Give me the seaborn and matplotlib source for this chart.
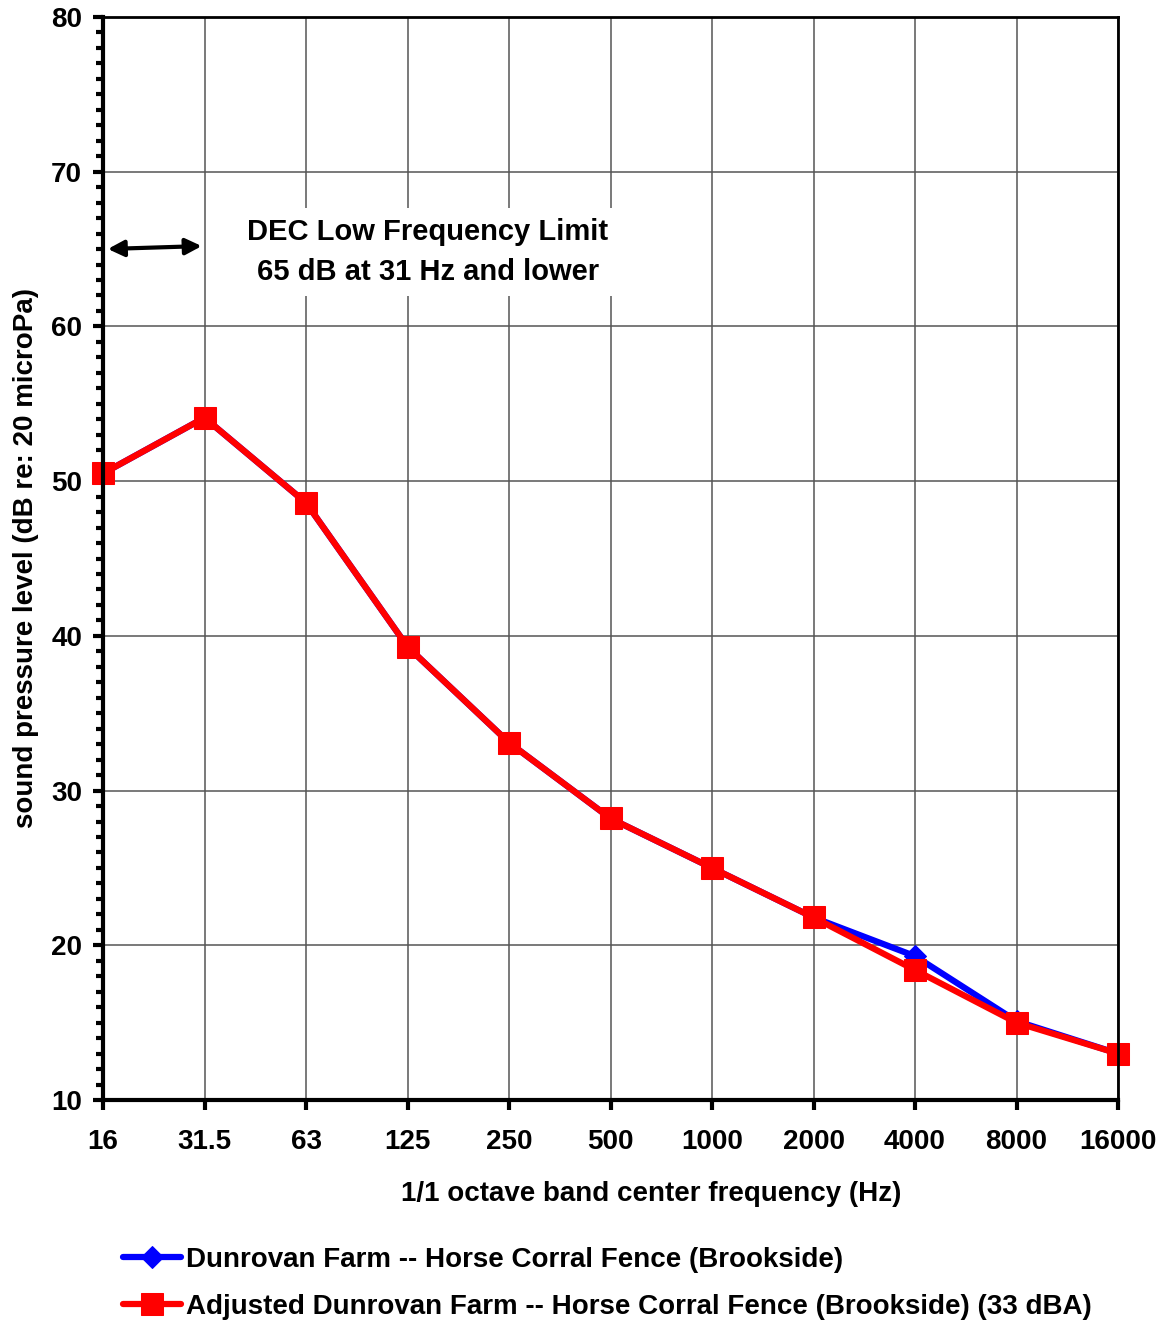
import numpy as np
import pandas as pd
import matplotlib
matplotlib.use('Agg')
import matplotlib.pyplot as plt
import seaborn as sns

freq_labels = ['16', '31.5', '63', '125', '250', '500', '1000', '2000', '4000', '8000', '16000']
dunrovan = [50.5, 54.1, 48.6, 39.3, 33.1, 28.2, 25.0, 21.8, 19.3, 15.1, 13.0]
adjusted = [50.5, 54.1, 48.6, 39.3, 33.1, 28.2, 25.0, 21.8, 18.4, 15.0, 13.0]

label_blue = 'Dunrovan Farm -- Horse Corral Fence (Brookside)'
label_red = 'Adjusted Dunrovan Farm -- Horse Corral Fence (Brookside) (33 dBA)'

sns.set_style('white')
plt.rcParams['font.family'] = ['Liberation Sans', 'DejaVu Sans']
plt.rcParams['font.weight'] = 'bold'
plt.rcParams['text.color'] = 'black'
plt.rcParams['axes.labelcolor'] = 'black'
plt.rcParams['xtick.color'] = 'black'
plt.rcParams['ytick.color'] = 'black'

pos = np.arange(len(freq_labels))
df = pd.DataFrame({'pos': pos, 'blue': dunrovan, 'red': adjusted})

fig = plt.figure(figsize=(11.66, 13.23), dpi=100)
ax = fig.add_axes([103 / 1166, 1 - 1100 / 1323, 1015 / 1166, 1083 / 1323])

sns.lineplot(data=df, x='pos', y='blue', ax=ax, color='#0000ff', lw=4.5,
             marker='D', markersize=11, markeredgecolor='#0000ff', label=label_blue, clip_on=False)
sns.lineplot(data=df, x='pos', y='red', ax=ax, color='#ff0000', lw=4.5,
             marker='s', markersize=16, markeredgecolor='#ff0000', label=label_red, clip_on=False)

ax.set_xlim(0, len(freq_labels) - 1)
ax.set_ylim(10, 80)
ax.set_xticks(pos)
ax.set_xticklabels(freq_labels)
ax.set_yticks(np.arange(10, 81, 10))
ax.set_yticks(np.arange(10, 81, 1), minor=True)
ax.grid(True, which='major', color='#555555', lw=1.1)
ax.tick_params(axis='both', which='major', labelsize=20, length=7, width=3, direction='out',
               left=True, bottom=True)
ax.tick_params(axis='x', which='major', pad=14)
ax.tick_params(axis='y', which='major', pad=8)
ax.tick_params(axis='y', which='minor', length=5, width=3, direction='out', left=True)
for lab in ax.get_xticklabels() + ax.get_yticklabels():
    lab.set_fontweight('bold')

for side in ['left', 'bottom']:
    ax.spines[side].set_linewidth(3)
for side in ['top', 'right']:
    ax.spines[side].set_linewidth(2)
for s in ax.spines.values():
    s.set_color('black')

ax.set_xlabel('1/1 octave band center frequency (Hz)', fontsize=20, fontweight='bold')
ax.xaxis.set_label_coords(0.54, -0.075)
ax.set_ylabel('sound pressure level (dB re: 20 microPa)', fontsize=20, fontweight='bold', labelpad=9)

# DEC limit annotation
ax.annotate('', xy=(0.02, 65.0), xytext=(1.0, 65.2),
            arrowprops=dict(arrowstyle='<|-|>', color='black', lw=3, mutation_scale=24))
ax.text(3.2, 64.8, 'DEC Low Frequency Limit\n65 dB at 31 Hz and lower', ha='center', va='center',
        fontsize=21, fontweight='bold', linespacing=1.55,
        bbox=dict(facecolor='white', edgecolor='none', pad=7))

ax.get_legend().remove()
handles, labels = ax.get_legend_handles_labels()
fig.legend(handles, labels, loc='upper left', bbox_to_anchor=(112 / 1166, 1 - 1236 / 1323),
           frameon=False, handlelength=2.1, handletextpad=0.15, labelspacing=0.75,
           borderaxespad=0, prop={'weight': 'bold', 'size': 20})

fig.savefig('out.png', dpi=100)
